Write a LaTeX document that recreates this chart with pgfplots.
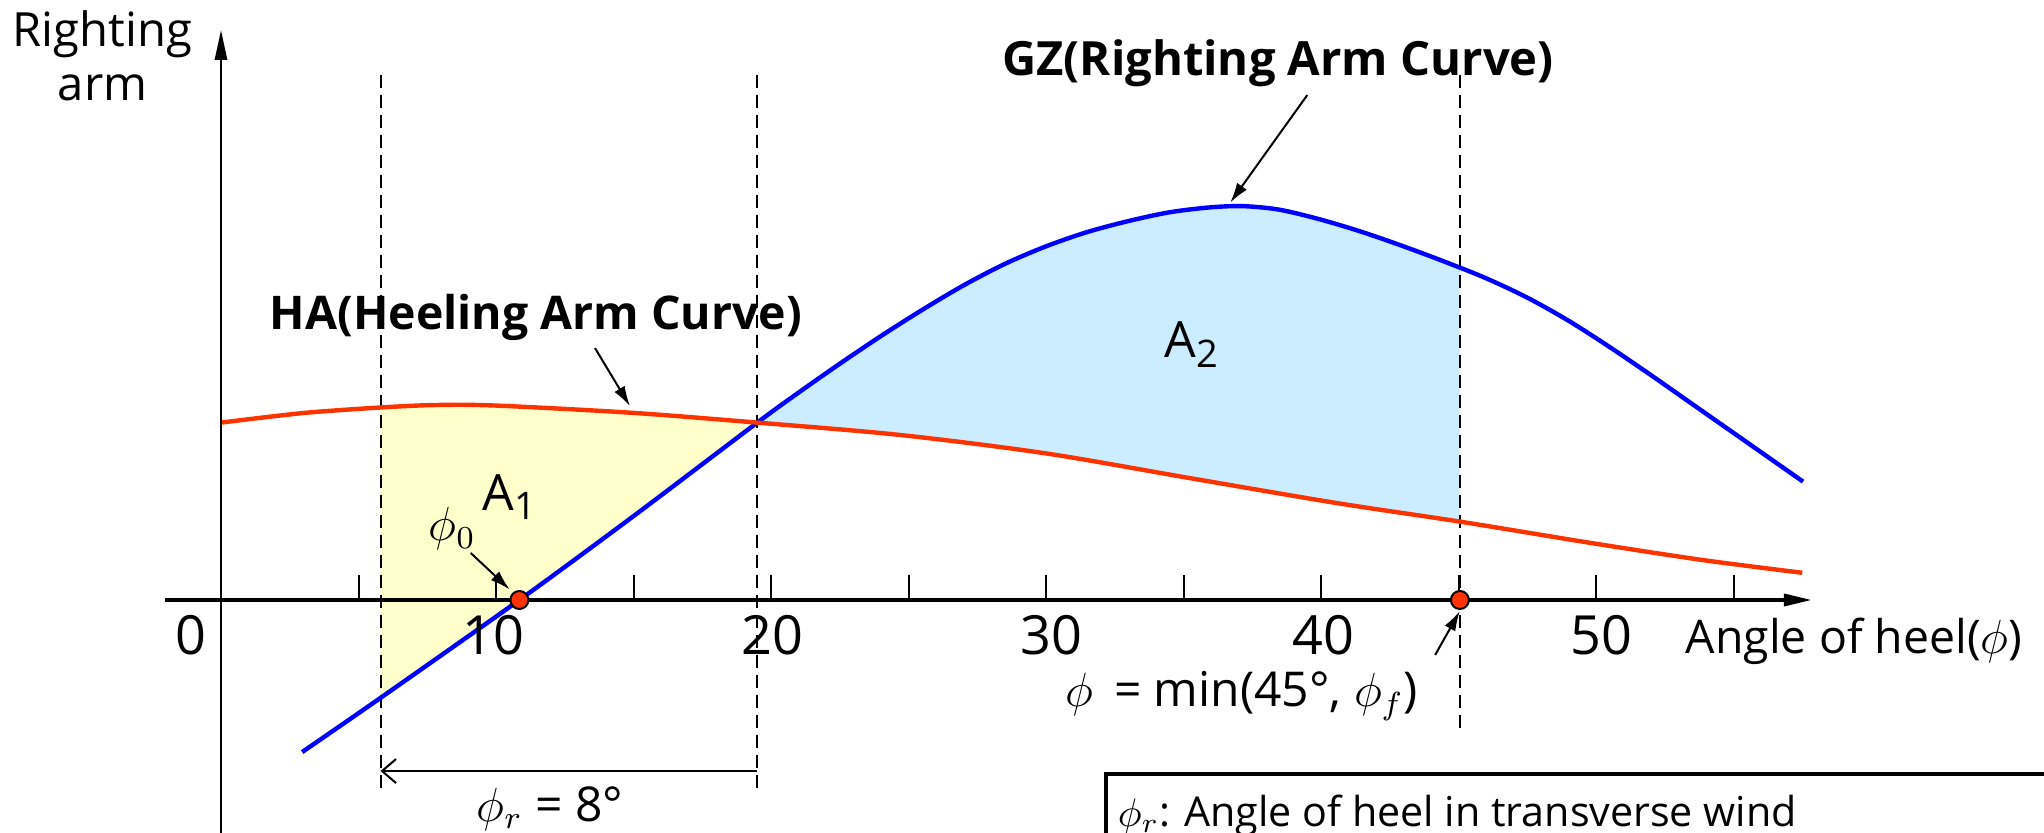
\documentclass[border=0pt]{standalone}
\usepackage{fontspec}
\setmainfont{Open Sans}
\usepackage{pgfplots}
\pgfplotsset{compat=1.18}
\usepgfplotslibrary{fillbetween}
\usetikzlibrary{arrows.meta}
\definecolor{hared}{HTML}{FF3300}
\definecolor{gzblue}{HTML}{0000FF}
\definecolor{aone}{HTML}{FFFFCC}
\definecolor{atwo}{HTML}{CCECFF}
\newcommand{\fs}[1]{\fontsize{#1}{#1}\selectfont}
\pgfplotstableread{
x y
2.95 -5.53
5.8 -3.56
10.85 0
15 3.05
19.5 6.45
21 7.54
22.5 8.59
24 9.6
25.5 10.55
27 11.44
28.5 12.22
30 12.86
31.5 13.38
33 13.78
34.5 14.1
36 14.28
37.2 14.32
38.5 14.19
40 13.83
41.5 13.38
43 12.86
44.5 12.3
46 11.7
47.5 10.995
49 10.155
50.5 9.195
52 8.175
53.5 7.125
55 6.075
57.53 4.304
}\gzdata
\pgfplotstableread{
x y
0 6.45
3 6.8
5.8 7.0
7.8 7.09
10 7.07
14.9 6.81
19.5 6.45
24.7 6.0
30 5.33
35.3 4.42
40.6 3.52
45.05 2.85
49.9 2.06
53.9 1.45
57.5 0.99
}\hadata
\begin{document}
\begin{tikzpicture}
\begin{axis}[name=ax, at={(0,0)}, anchor=south west, x=6.875pt, y=6.875pt,
  xmin=-8.0364, xmax=66.291, ymin=-8.4727, ymax=21.818, hide axis, clip=false]
% curves (paths)
\addplot[draw=none, smooth, name path=GZ] table {\gzdata};
\addplot[draw=none, smooth, name path=HA] table {\hadata};
\addplot[fill=aone, draw=none] fill between[of=HA and GZ, soft clip={domain=5.8:19.5}];
\addplot[fill=atwo, draw=none] fill between[of=GZ and HA, soft clip={domain=19.5:45.05}];
% dashed verticals
\draw[line width=0.5pt, dash pattern=on 3.3pt off 1.7pt] (axis cs:5.8,19.09) -- (axis cs:5.8,-6.84);
\draw[line width=0.5pt, dash pattern=on 3.3pt off 1.7pt] (axis cs:19.5,19.09) -- (axis cs:19.5,-6.87);
\draw[line width=0.5pt, dash pattern=on 3.3pt off 1.7pt] (axis cs:45.05,19.1) -- (axis cs:45.05,-4.76);
% visible curves
\addplot[gzblue, line width=1.1pt, smooth] table {\gzdata};
\addplot[hared, line width=1.1pt, smooth] table {\hadata};
% axes
\draw[line width=0.9pt, -{Triangle[length=7pt,width=3pt]}] (axis cs:-2.04,0) -- (axis cs:57.85,0);
\draw[line width=0.7pt, -{Triangle[length=7.5pt,width=3pt]}] (axis cs:0,-8.4727) -- (axis cs:0,20.73);
\pgfplotsinvokeforeach{5,10,15,20,25,30,35,40,45,50,55}{\draw[line width=0.5pt] (axis cs:#1,0) -- (axis cs:#1,0.9);}
% tick labels
\node[anchor=base, inner sep=0, font=\fs{13.5}] at (axis cs:-1.1,-2.0) {0};
\node[anchor=base, inner sep=0, font=\fs{13.5}] at (axis cs:9.9,-2.0) {10};
\node[anchor=base, inner sep=0, font=\fs{13.5}] at (axis cs:20.05,-2.0) {20};
\node[anchor=base, inner sep=0, font=\fs{13.5}] at (axis cs:30.2,-2.0) {30};
\node[anchor=base, inner sep=0, font=\fs{13.5}] at (axis cs:40.1,-2.0) {40};
\node[anchor=base, inner sep=0, font=\fs{13.5}] at (axis cs:50.2,-2.0) {50};
\node[anchor=base west, inner sep=0, font=\fs{11.6}] at (axis cs:53.24,-1.93) {Angle of heel($\phi$)};
\node[anchor=base, inner sep=0, font=\fs{11.8}] at (axis cs:-4.31,20.11) {Righting};
\node[anchor=base, inner sep=0, font=\fs{11.8}] at (axis cs:-4.31,18.18) {arm};
% curve labels
\node[anchor=base, inner sep=0, font=\fs{11.6}\bfseries] at (axis cs:11.45,9.82) {HA(Heeling Arm Curve)};
\node[anchor=base, inner sep=0, font=\fs{11.8}\bfseries] at (axis cs:38.44,19.09) {GZ(Righting Arm Curve)};
\draw[line width=0.5pt, -{Latex[length=5pt,width=3pt]}] (axis cs:13.6,9.16) -- (axis cs:14.87,7.05);
\draw[line width=0.5pt, -{Latex[length=5pt,width=3pt]}] (axis cs:39.5,18.36) -- (axis cs:36.7,14.45);
% area labels
\node[anchor=base west, inner sep=0, font=\fs{12.5}] at (axis cs:9.49,3.27) {A\raisebox{-0.35ex}{\fs{9.5}1}};
\node[anchor=base west, inner sep=0, font=\fs{12.5}] at (axis cs:34.29,8.8) {A\raisebox{-0.35ex}{\fs{9.5}2}};
\node[anchor=base west, inner sep=0, font=\fs{12}] at (axis cs:7.53,2.15) {$\phi_0$};
\draw[line width=0.5pt, -{Latex[length=5pt,width=3pt]}] (axis cs:9.08,1.71) -- (axis cs:10.5,0.38);
% points
\addplot[only marks, mark=*, mark size=2.25pt, mark options={fill=hared, draw=black, line width=0.5pt}] coordinates {(10.85,0) (45.05,0)};
% min label
\node[anchor=base west, inner sep=0, font=\fs{12}] at (axis cs:30.69,-3.89) {$\phi$ \,= min(45°, $\phi_f$)};
\draw[line width=0.5pt, -{Latex[length=5pt,width=3pt]}] (axis cs:44.15,-2.0) -- (axis cs:45.05,-0.4);
% phi_r arrow
\draw[line width=0.5pt, -{Straight Barb[length=3.5pt,width=6pt]}] (axis cs:19.5,-6.22) -- (axis cs:5.8,-6.22);
\node[anchor=base west, inner sep=0, font=\fs{12}] at (axis cs:9.27,-8.06) {$\phi_r$ = 8°};
% legend box
\draw[line width=1.2pt] (axis cs:32.18,-8.4727) -- (axis cs:32.18,-6.33) -- (axis cs:66.291,-6.33);
\node[anchor=base west, inner sep=0, font=\fs{10.3}] at (axis cs:32.58,-8.25) {$\phi_r$: Angle of heel in transverse wind};
\end{axis}
\pgfresetboundingbox
\useasboundingbox (ax.south west) rectangle (ax.north east);
\end{tikzpicture}
\end{document}
